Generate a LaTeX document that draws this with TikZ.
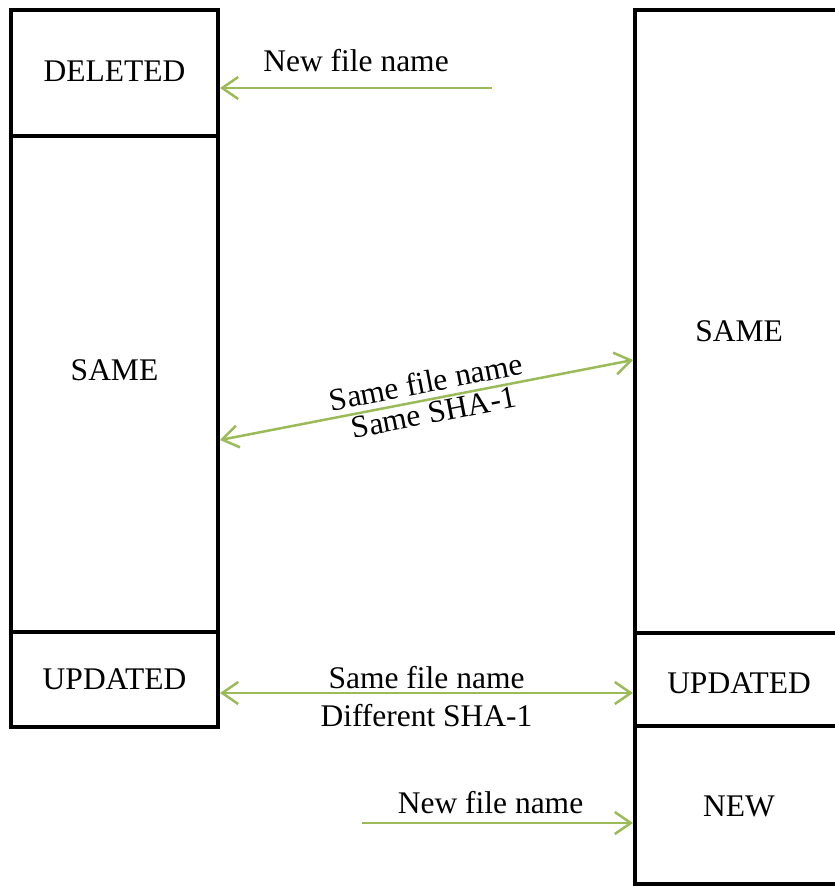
\documentclass[tikz,border=0pt]{standalone}
\usepackage{fontspec}
\setmainfont{Liberation Serif}
\usetikzlibrary{arrows.meta,calc}
\definecolor{arrgreen}{RGB}{155,187,89}
\begin{document}
\begin{tikzpicture}[x=1pt,y=-1pt,
  box/.style={draw=black,line width=4pt,rectangle,inner sep=0pt,minimum width=207pt},
  rbox/.style={draw=black,line width=4pt,rectangle,inner sep=0pt,minimum width=208pt},
  lbl/.style={font=\fontsize{31.5}{38}\selectfont,inner sep=0pt},
  slbl/.style={lbl,rotate=10.96,anchor=base},
  arr/.style={draw=arrgreen,line width=2.5pt,-{Straight Barb[length=16pt,width=22pt,line width=2.5pt]}},
  darr/.style={draw=arrgreen,line width=2.5pt,{Straight Barb[length=16pt,width=22pt,line width=2.5pt]}-{Straight Barb[length=16pt,width=22pt,line width=2.5pt]}}
]
\useasboundingbox (0,0) rectangle (835,886);
\clip (0,0) rectangle (835,886);
% left column
\node[box,minimum height=126pt,label={[lbl,yshift=2pt]center:DELETED}] (del) at (114.5,73) {};
\node[box,minimum height=496pt,label={[lbl,yshift=14pt]center:SAME}] (lsame) at (114.5,384) {};
\node[box,minimum height=95pt,label={[lbl,yshift=0.5pt]center:UPDATED}] (lupd) at (114.5,679.5) {};
% right column
\node[rbox,minimum height=623pt,label={[lbl,yshift=-10pt]center:SAME}] (rsame) at (739,321.5) {};
\node[rbox,minimum height=93pt,label={[lbl,yshift=-3.5pt]center:UPDATED}] (rupd) at (739,679.5) {};
\node[rbox,minimum height=158pt,label={[lbl,yshift=-1pt]center:NEW}] (rnew) at (739,805) {};
% connectors
\coordinate (s1) at (492,88);
\coordinate (e1) at (220,88);
\draw[arr] (s1) -- (e1) node[lbl,midway,yshift=27pt] {New file name};
\coordinate (a2) at (220,440);
\coordinate (b2) at (633,360);
\draw[darr] (a2) -- (b2);
\coordinate (p1) at ($(a2)!0.507!(b2)$);
\coordinate (p2) at ($(a2)!0.512!(b2)$);
\node[slbl] (t1) at ($(p1)!7pt!90:(b2)$) {Same file name};
\node[slbl] (t2) at ($(p2)!24pt!-90:(b2)$) {Same SHA-1};
\coordinate (a3) at (220,693);
\coordinate (b3) at (633,693);
\draw[darr] (a3) -- (b3) node[lbl,midway,align=center,yshift=-4pt] {Same file name\\Different SHA-1};
\coordinate (s4) at (362,823);
\coordinate (e4) at (633,823);
\draw[arr] (s4) -- (e4) node[lbl,midway,xshift=-7pt,yshift=20pt] {New file name};
\end{tikzpicture}
\end{document}
